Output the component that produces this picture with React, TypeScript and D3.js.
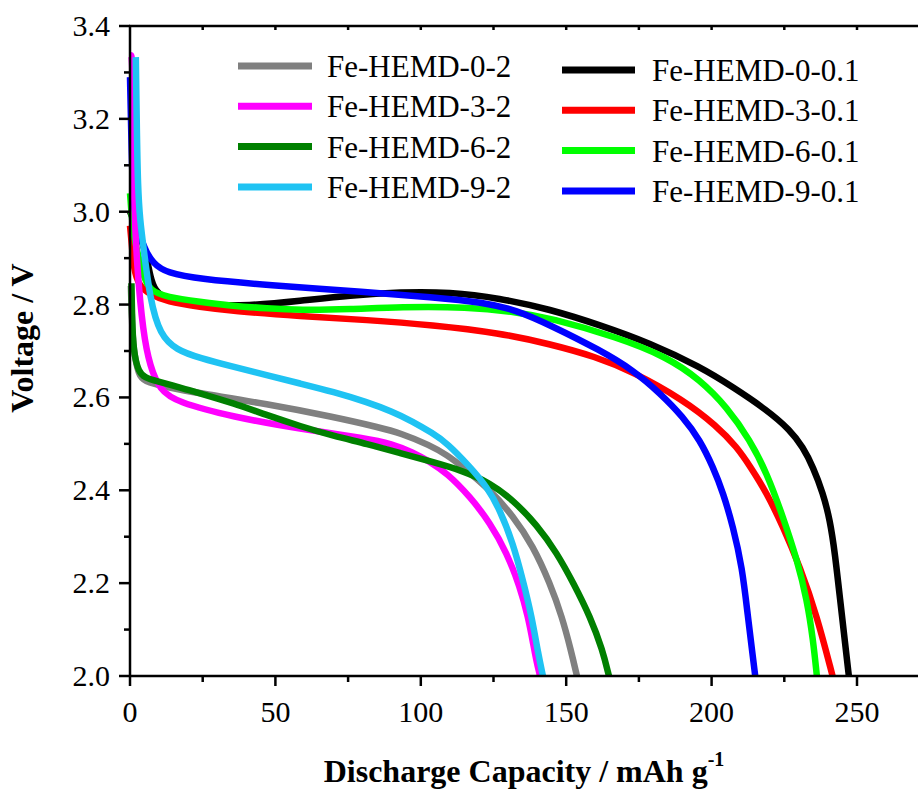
import React from "react";
import * as d3 from "d3";

const xTicks = [0, 50, 100, 150, 200, 250];
const xMinorTicks = [25, 75, 125, 175, 225, 275];
const yTicks = [2.0, 2.2, 2.4, 2.6, 2.8, 3.0, 3.2, 3.4];
const yMinorTicks = [2.1, 2.3, 2.5, 2.7, 2.9, 3.1, 3.3];

const black01: [number, number][] = [
  [0, 3.0], [2, 2.97], [4, 2.94], [5.8, 2.9], [7, 2.86], [8.5, 2.83], [12.7, 2.81], [24, 2.799],
  [41, 2.797], [58.5, 2.808], [75.7, 2.82], [93, 2.827], [110, 2.827], [127, 2.814], [144.4, 2.79],
  [161.6, 2.756], [178.8, 2.717], [196, 2.666], [207.4, 2.622], [219, 2.573], [227, 2.53],
  [231.4, 2.493], [234.9, 2.45], [238.3, 2.394], [240.7, 2.336], [242.4, 2.265], [244.2, 2.164],
  [245.9, 2.071], [247.2, 2.0],
];
const red01: [number, number][] = [
  [0, 2.97], [0.7, 2.925], [1.2, 2.88], [3, 2.84], [6.9, 2.822], [12.7, 2.806], [24, 2.795],
  [35.4, 2.786], [58.5, 2.775], [81.5, 2.767], [104, 2.756], [127, 2.739], [144.4, 2.715], [160, 2.688],
  [173, 2.655], [190, 2.596], [201.9, 2.538], [208.7, 2.493], [213.2, 2.452], [219, 2.394],
  [224.6, 2.321], [230.4, 2.235], [236.2, 2.13], [241.6, 2.0],
];
const lime01: [number, number][] = [
  [0, 3.04], [0.5, 3.0], [1, 2.954], [4.5, 2.86], [6.9, 2.83], [12.7, 2.816], [24, 2.806],
  [35.4, 2.797], [47, 2.792], [58.5, 2.788], [75.7, 2.79], [93, 2.795], [116, 2.795], [133, 2.784],
  [144.4, 2.771], [167.5, 2.73], [184.7, 2.687], [196, 2.638], [205.3, 2.579], [213.2, 2.508],
  [219, 2.437], [224.6, 2.342], [229.4, 2.25], [232.8, 2.164], [234.9, 2.078], [236.2, 2.0],
];
const blue01: [number, number][] = [
  [0, 3.29], [0.5, 3.15], [1, 3.025], [2.4, 2.975], [4.5, 2.925], [7.9, 2.888], [12.7, 2.868],
  [24, 2.855], [47, 2.842], [81.5, 2.827], [104, 2.816], [121.4, 2.805], [133, 2.788], [144.4, 2.756],
  [161.6, 2.702], [173, 2.659], [182.3, 2.609], [190.2, 2.558], [196, 2.508], [200.5, 2.45],
  [204, 2.394], [207.4, 2.321], [210.5, 2.235], [212.5, 2.127], [213.9, 2.056], [215, 2.0],
];
const gray2: [number, number][] = [
  [0.3, 2.84], [0.8, 2.74], [1.5, 2.69], [3, 2.65], [4.5, 2.635], [12.7, 2.622], [24, 2.609],
  [47, 2.586], [70, 2.558], [86, 2.535], [93, 2.523], [103.2, 2.497], [109, 2.476], [114.5, 2.45],
  [123.8, 2.401], [131.7, 2.345], [138.6, 2.28], [144.4, 2.2], [148.6, 2.127], [151.6, 2.056],
  [153.7, 2.0],
];
const magenta2: [number, number][] = [
  [0.2, 3.337], [0.8, 3.337], [1, 3.2], [1.3, 3.03], [2.4, 2.88], [4.5, 2.739], [6.9, 2.666],
  [10.3, 2.616], [16, 2.59], [35.4, 2.558], [58.5, 2.532], [81.5, 2.512], [90, 2.5], [97.3, 2.482],
  [103, 2.462], [109, 2.437], [117, 2.386], [123.8, 2.33], [129.6, 2.265], [134.1, 2.192],
  [136.9, 2.127], [138.6, 2.071], [139.7, 2.034], [141, 2.0],
];
const green2: [number, number][] = [
  [0.5, 2.846], [0.8, 2.74], [1.5, 2.69], [3, 2.655], [5, 2.643], [9, 2.635], [18, 2.62], [24, 2.609],
  [35.4, 2.588], [47, 2.562], [58.5, 2.538], [70, 2.517], [81.5, 2.5], [93, 2.48], [104, 2.461],
  [114.5, 2.442], [123.8, 2.416], [131.7, 2.379], [140, 2.325], [146.8, 2.265], [152.5, 2.2],
  [158.3, 2.127], [162.5, 2.056], [164.7, 2.0],
];
const cyan2: [number, number][] = [
  [2.0, 3.333], [2.3, 3.2], [2.7, 3.05], [3.5, 2.98], [4.5, 2.93], [6.9, 2.81], [10.3, 2.735],
  [16, 2.702], [24, 2.685], [35.4, 2.666], [47, 2.648], [58.5, 2.63], [70, 2.612], [81.5, 2.59],
  [90, 2.57], [97.3, 2.548], [104, 2.523], [109, 2.502], [117, 2.45], [122.8, 2.407], [127.2, 2.358],
  [131.7, 2.286], [135.1, 2.207], [138.2, 2.127], [140.3, 2.05], [142, 2.0],
];

const seriesNames = [
  "Fe-HEMD-0-0.1", "Fe-HEMD-3-0.1", "Fe-HEMD-6-0.1", "Fe-HEMD-9-0.1",
  "Fe-HEMD-0-2", "Fe-HEMD-3-2", "Fe-HEMD-6-2", "Fe-HEMD-9-2",
];
const seriesColors = [
  "#000000", "#ff0000", "#00ff00", "#0000ff",
  "#808080", "#ff00ff", "#008000", "#1fc3f3",
];
const seriesData = [black01, red01, lime01, blue01, gray2, magenta2, green2, cyan2];

const leftLegend = ["Fe-HEMD-0-2", "Fe-HEMD-3-2", "Fe-HEMD-6-2", "Fe-HEMD-9-2"];
const rightLegend = ["Fe-HEMD-0-0.1", "Fe-HEMD-3-0.1", "Fe-HEMD-6-0.1", "Fe-HEMD-9-0.1"];

const W = 918;
const H = 790;
const M = { left: 130, top: 26, right: 918, bottom: 676 };
const FONT = "Liberation Serif, Times New Roman, serif";

export default function App() {
  const x = d3.scaleLinear().domain([0, 250]).range([M.left, 857]);
  const y = d3.scaleLinear().domain([2.0, 3.4]).range([M.bottom, M.top]);
  const line = d3
    .line<[number, number]>()
    .x((d) => x(d[0]))
    .y((d) => y(d[1]))
    .curve(d3.curveBasis);

  const colorOf = (name: string) => seriesColors[seriesNames.indexOf(name)];

  return (
    <svg
      width={W}
      height={H}
      style={{ position: "absolute", left: 0, top: 0, background: "#fff", fontFamily: FONT }}
    >
      <rect x={0} y={0} width={W} height={H} fill="#fff" />
      <g fill="none" strokeWidth={6.5} strokeLinejoin="round">
        {seriesData.map((d, i) => (
          <path key={i} d={line(d) || ""} stroke={seriesColors[i]} />
        ))}
      </g>

      <g stroke="#000" strokeWidth={2.5}>
        <line x1={M.left} x2={M.right} y1={M.bottom} y2={M.bottom} />
        <line x1={M.left} x2={M.left} y1={M.top} y2={M.bottom + 1} />
        <line x1={M.left - 1} x2={M.right} y1={M.top} y2={M.top} />
        {xTicks.map((t) => (
          <line key={"xt" + t} x1={x(t)} x2={x(t)} y1={M.bottom} y2={M.bottom + 10} />
        ))}
        {xMinorTicks.map((t) => (
          <line key={"xm" + t} x1={x(t)} x2={x(t)} y1={M.bottom} y2={M.bottom + 6} />
        ))}
        {[...xTicks, ...xMinorTicks].filter((t) => t > 0).map((t) => (
          <line key={"xtop" + t} x1={x(t)} x2={x(t)} y1={M.top} y2={M.top + 4} />
        ))}
        {yTicks.map((t) => (
          <line key={"yt" + t} x1={M.left - 11} x2={M.left} y1={y(t)} y2={y(t)} />
        ))}
        {yMinorTicks.map((t) => (
          <line key={"ym" + t} x1={M.left - 6} x2={M.left} y1={y(t)} y2={y(t)} />
        ))}
      </g>

      <g fontSize={30} fill="#000" style={{ fontFamily: FONT }}>
        {xTicks.map((t) => (
          <text key={"xl" + t} x={x(t)} y={722} textAnchor="middle">
            {t}
          </text>
        ))}
        {yTicks.map((t) => (
          <text key={"yl" + t} x={110} y={y(t) + 10} textAnchor="end">
            {t.toFixed(1)}
          </text>
        ))}
      </g>

      <text x={524} y={782} textAnchor="middle" fontSize={32} fontWeight="bold" style={{ fontFamily: FONT }}>
        Discharge Capacity / mAh g
        <tspan fontSize={20} dy={-16}>-1</tspan>
      </text>
      <text
        transform={`translate(33, 338) rotate(-90)`}
        textAnchor="middle"
        fontSize={32}
        fontWeight="bold"
        style={{ fontFamily: FONT }}
      >
        Voltage / V
      </text>

      <g fontSize={31} style={{ fontFamily: FONT }}>
        {leftLegend.map((n, i) => (
          <g key={n} transform={`translate(0, ${66 + i * 40.3})`}>
            <line x1={238} x2={312} y1={0} y2={0} stroke={colorOf(n)} strokeWidth={7} />
            <text x={327} y={11}>{n}</text>
          </g>
        ))}
        {rightLegend.map((n, i) => (
          <g key={n} transform={`translate(0, ${70 + i * 40.3})`}>
            <line x1={562} x2={635} y1={0} y2={0} stroke={colorOf(n)} strokeWidth={7} />
            <text x={652} y={11}>{n}</text>
          </g>
        ))}
      </g>
    </svg>
  );
}
